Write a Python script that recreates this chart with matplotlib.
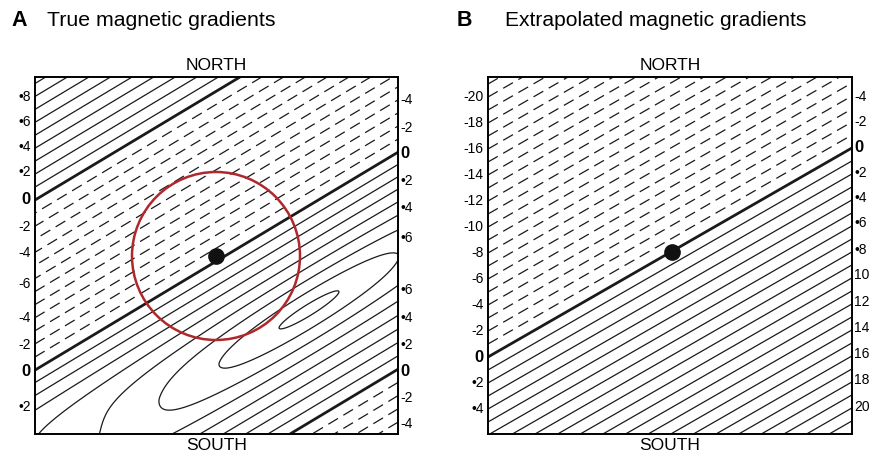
import numpy as np
import matplotlib.pyplot as plt
from matplotlib.patches import Circle

plt.rcParams['font.family'] = ['Liberation Sans', 'DejaVu Sans']

# map frame, in map units (one unit ~ one pixel of the figure)
box_w, box_h = 363, 357

# --- panel A: true field -------------------------------------------------
# contour lines run along w = y + a_slope * x; profile across them
a_slope = 0.6
a_prof_w = [0, 123, 208, 293, 397, 510, 600]
a_prof_val = [9.5, 0, -6.5, 0, 8.5, 0, -6.8]
# ridge in the lower right: crest point, spacing of loop tips along x,
# spacing of lines across the ridge
a_ridge_x, a_ridge_w = 274, 397
a_tip_step = 60
a_line_step = 13
a_levels = list(range(-7, 10))

# edge labels of A (value, position along the edge)
a_left_val = [8, 6, 4, 2, 0, -2, -4, -6, -4, -2, 0, 2]
a_left_pos = [20, 45, 70, 95, 123, 150, 176, 207, 241, 268, 295, 330]
a_right_val = [-4, -2, 0, 2, 4, 6, 6, 4, 2, 0, -2, -4]
a_right_pos = [23, 51, 76, 104, 131, 161, 213, 241, 268, 295, 321, 347]

# --- panel B: extrapolated (linear) field --------------------------------
b_slope = 0.576
b_zero_w = 280
b_step = 13
b_levels = list(range(-22, 24))

b_left_val = [-20, -18, -16, -14, -12, -10, -8, -6, -4, -2, 0, 2, 4]
b_left_pos = [20, 46, 72, 98, 124, 150, 176, 202, 228, 254, 280, 306, 332]
b_right_val = [-4, -2, 0, 2, 4, 6, 8, 10, 12, 14, 16, 18, 20]
b_right_pos = [20, 45, 71, 96, 121, 146, 173, 198, 225, 251, 277, 303, 330]

# home site
a_home = (181, 179)
b_home = (183, 175)
circle_r = 84


def label_text(v):
    if v > 0 and v < 10:
        return '\u2022' + str(v)
    return str(v)


def line_styles(levels):
    ls, lw = [], []
    for v in levels:
        if v < 0:
            ls.append((0, (9, 5)))
            lw.append(0.9)
        elif v == 0:
            ls.append('solid')
            lw.append(2.0)
        else:
            ls.append('solid')
            lw.append(0.9)
    return ls, lw


def frame(ax, left_val, left_pos, right_val, right_pos):
    ax.set_xlim(0, box_w)
    ax.set_ylim(box_h, 0)
    ax.set_xticks([])
    ax.set_yticks([])
    for s in ax.spines.values():
        s.set_linewidth(1.4)
    tr = ax.get_yaxis_transform()
    for v, p in zip(left_val, left_pos):
        ax.text(-0.012, p, label_text(v), transform=tr, ha='right', va='center',
                fontsize=12 if v == 0 else 10, fontweight='bold' if v == 0 else 'normal')
    for v, p in zip(right_val, right_pos):
        ax.text(1.006, p, label_text(v), transform=tr, ha='left', va='center',
                fontsize=12 if v == 0 else 10, fontweight='bold' if v == 0 else 'normal')
    ax.text(0.5, 1.01, 'NORTH', transform=ax.transAxes, ha='center', va='bottom', fontsize=12.5)
    ax.text(0.5, -0.01, 'SOUTH', transform=ax.transAxes, ha='center', va='top', fontsize=12.5)


fig = plt.figure(figsize=(8.73, 4.58), dpi=100)
axA = fig.add_axes([35 / 873, 1 - 434 / 458, 363 / 873, 357 / 458])
axB = fig.add_axes([488 / 873, 1 - 434 / 458, 364 / 873, 357 / 458])

x = np.linspace(0, box_w, 600)
y = np.linspace(0, box_h, 600)
X, Y = np.meshgrid(x, y)

# field A: piecewise profile across the lines, with the ridge pinched into
# elliptical loops around its crest
W = Y + a_slope * X
base = np.interp(W, a_prof_w, a_prof_val)
d = (W - a_ridge_w) / a_line_step
q = (X - a_ridge_x) / a_tip_step
damp = np.exp(-(d / 3.5) ** 2)
ZA = base + np.abs(d) - np.sqrt(d ** 2 + q ** 2 * damp)

ls, lw = line_styles(a_levels)
axA.contour(X, Y, ZA, levels=a_levels, colors='#1a1a1a', linestyles=ls, linewidths=lw)
axA.add_patch(Circle(a_home, circle_r, fill=False, ec='#b0282c', lw=1.8, zorder=4))
axA.plot(*a_home, 'o', color='#111111', ms=11, zorder=5)
frame(axA, a_left_val, a_left_pos, a_right_val, a_right_pos)

# field B
WB = Y + b_slope * X
ZB = (WB - b_zero_w) / b_step
ls, lw = line_styles(b_levels)
axB.contour(X, Y, ZB, levels=b_levels, colors='#1a1a1a', linestyles=ls, linewidths=lw)
axB.plot(*b_home, 'o', color='#111111', ms=11, zorder=5)
frame(axB, b_left_val, b_left_pos, b_right_val, b_right_pos)

fig.text(11 / 873, 1 - 20 / 458, 'A', fontsize=15.5, fontweight='bold', va='center')
fig.text(47 / 873, 1 - 20 / 458, 'True magnetic gradients', fontsize=15.3, va='center')
fig.text(457 / 873, 1 - 20 / 458, 'B', fontsize=15.5, fontweight='bold', va='center')
fig.text(505 / 873, 1 - 20 / 458, 'Extrapolated magnetic gradients', fontsize=15.1, va='center')

fig.savefig('out.png', dpi=100)
